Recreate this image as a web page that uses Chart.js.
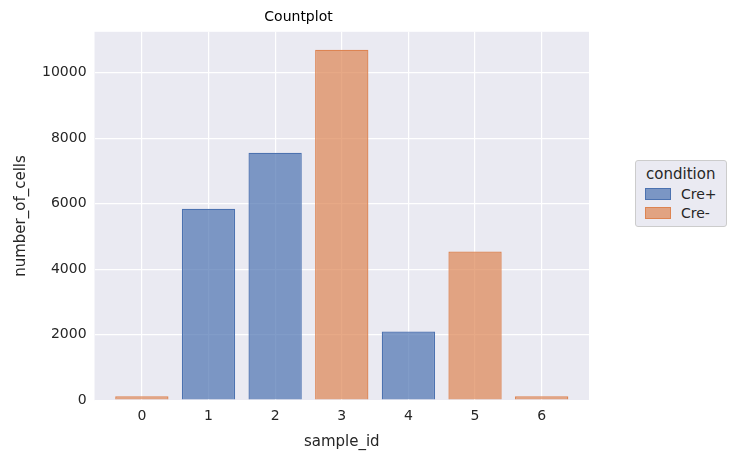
<!DOCTYPE html>
<html><head><meta charset="utf-8">
<script src="https://cdn.jsdelivr.net/npm/chart.js@4"></script>
<style>
body{margin:0;background:#fff;font-family:"DejaVu Sans",sans-serif;}
#wrap{position:relative;width:753px;height:463px;}
#legend{position:absolute;left:635px;top:160px;border:1px solid #ccc;border-radius:3px;background:#eaeaf2;padding:4px 9px 5px 9px;font-size:14px;color:#262626;}
#legend .t{font-size:15px;text-align:center;margin-bottom:3px;}
#legend .r{display:flex;align-items:center;margin-top:3px;}
#legend .s{width:26px;height:12px;margin-right:10px;box-sizing:border-box;}
</style></head><body>
<div id="wrap"><canvas id="c" width="753" height="463"></canvas>
<div id="legend"><div class="t">condition</div>
<div class="r"><div class="s" style="background:rgba(76,114,176,0.7);border:1px solid #4c72b0"></div>Cre+</div>
<div class="r"><div class="s" style="background:rgba(221,132,82,0.7);border:1px solid #dd8452"></div>Cre-</div></div></div>
<script>
const categories=[0,1,2,3,4,5,6];
const crePlus=[null,5850,7560,null,2100,null,null];
const creMinus=[120,null,null,10700,null,4540,120];
const yTicks=[0,2000,4000,6000,8000,10000];
const toPts=a=>categories.map((c,i)=>({x:c,y:a[i]})).filter(p=>p.y!==null);
const bg={id:'bg',beforeDraw(c){const a=c.chartArea,x=c.ctx;x.save();x.fillStyle='#eaeaf2';x.fillRect(a.left,a.top,a.right-a.left,a.bottom-a.top);x.restore();}};
const F={family:'DejaVu Sans',size:14};
new Chart(document.getElementById('c'),{type:'bar',
data:{datasets:[
{label:'Cre+',data:toPts(crePlus),backgroundColor:'rgba(76,114,176,0.7)',borderColor:'#4c72b0',borderWidth:1.3},
{label:'Cre-',data:toPts(creMinus),backgroundColor:'rgba(221,132,82,0.7)',borderColor:'#dd8452',borderWidth:1.3}]},
options:{responsive:false,animation:false,layout:{padding:{right:164,top:0,left:8,bottom:8}},
datasets:{bar:{grouped:false,categoryPercentage:1,barPercentage:0.8}},
plugins:{legend:{display:false},tooltip:{enabled:false},
title:{display:true,text:'Countplot',color:'#000',font:{family:'DejaVu Sans',size:14,weight:'normal'},padding:{top:9,bottom:6}}},
scales:{
x:{type:'linear',offset:false,min:-0.71,max:6.71,grid:{color:'#fff',lineWidth:1.2,drawTicks:false,offset:false},border:{display:false},
afterBuildTicks(s){s.ticks=categories.map(v=>({value:v}));},
ticks:{color:'#262626',font:F,padding:8,callback:v=>String(v)},
title:{display:true,text:'sample_id',color:'#262626',font:{family:'DejaVu Sans',size:15},padding:{top:0}}},
y:{min:0,max:11250,grid:{color:'#fff',lineWidth:1.2,drawTicks:false},border:{display:false},
afterBuildTicks(s){s.ticks=yTicks.map(v=>({value:v}));},
ticks:{color:'#262626',font:F,padding:8,callback:v=>String(v)},
title:{display:true,text:'number_of_cells',color:'#262626',font:{family:'DejaVu Sans',size:15},padding:{bottom:4}}}}},
plugins:[bg]});
</script></body></html>
